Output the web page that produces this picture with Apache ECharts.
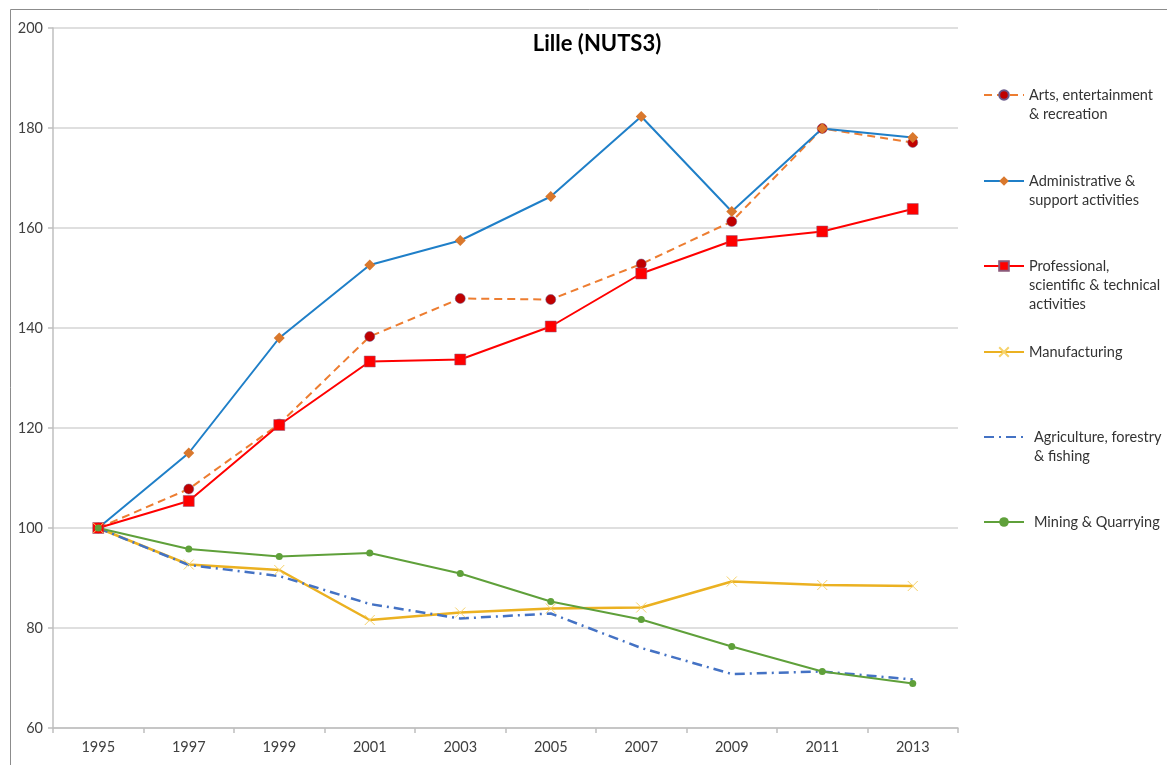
<!DOCTYPE html>
<html>
<head>
<meta charset="utf-8">
<script src="https://cdn.jsdelivr.net/npm/echarts@6/dist/echarts.min.js"></script>
<style>
html,body{margin:0;padding:0;background:#fff;}
#chart{width:1167px;height:765px;}
</style>
</head>
<body>
<div id="chart"></div>
<script>
const years = ['1995','1997','1999','2001','2003','2005','2007','2009','2011','2013'];
const yTicks = [60, 80, 100, 120, 140, 160, 180, 200];
const arts = [100, 107.8, 120.8, 138.3, 145.9, 145.7, 152.8, 161.3, 179.9, 177.1];
const admin = [100, 115.0, 138.0, 152.6, 157.5, 166.3, 182.3, 163.3, 179.9, 178.1];
const prof = [100, 105.4, 120.6, 133.3, 133.7, 140.3, 150.9, 157.4, 159.3, 163.8];
const manuf = [100, 92.7, 91.6, 81.6, 83.1, 83.9, 84.1, 89.3, 88.6, 88.4];
const agri = [100, 92.6, 90.4, 84.8, 81.9, 82.9, 76.0, 70.8, 71.3, 69.7];
const mining = [100, 95.8, 94.3, 95.0, 90.9, 85.3, 81.7, 76.3, 71.3, 68.9];
const names = ['Arts, entertainment\n& recreation', 'Administrative &\nsupport activities',
  'Professional,\nscientific & technical\nactivities', 'Manufacturing',
  'Agriculture, forestry\n& fishing', 'Mining & Quarrying'];

const FONT = 'Lato';
const LH = 19;
const legendFirstLineY = [95, 181, 266, 352, 437, 522];

function blankPrefix(name) {
  const n = name.split('\n').length;
  return '\n'.repeat(n - 1) + name;
}

const legends = names.map((nm, i) => {
  const n = nm.split('\n').length;
  const totalLines = 2 * n - 1;
  const item = {name: nm};
  if (i === 4) item.itemStyle = {opacity: 0};
  return {
    data: [item],
    orient: 'vertical',
    left: 983,
    top: legendFirstLineY[i] - totalLines * LH / 2,
    padding: 0,
    itemWidth: 40,
    itemHeight: 12,
    selectedMode: false,
    formatter: blankPrefix,
    textStyle: {fontFamily: FONT, fontSize: 14.5, color: '#333333', lineHeight: LH,
      padding: (i >= 4) ? [0, 0, 0, 5] : 0}
  };
});

const chart = echarts.init(document.getElementById('chart'));
chart.setOption({
  animation: false,
  backgroundColor: '#fff',
  title: {
    text: 'Lille (NUTS3)', left: 592, top: 28, textAlign: 'center',
    textStyle: {fontFamily: FONT, fontSize: 22, fontWeight: 'bold', color: '#000'}
  },
  graphic: [{
    type: 'rect', shape: {x: 10.5, y: 9.5, width: 1200, height: 800},
    style: {fill: 'none', stroke: '#8c8c8c', lineWidth: 1}, silent: true, z: -1
  }],
  legend: legends,
  grid: {left: 53, right: 209, top: 28, bottom: 37, containLabel: false},
  xAxis: {
    type: 'category', data: years, boundaryGap: true,
    axisLine: {lineStyle: {color: '#bfbfbf', width: 1.5}},
    axisTick: {show: true, alignWithLabel: false, length: 5, lineStyle: {color: '#bfbfbf', width: 1.5}},
    axisLabel: {fontFamily: FONT, fontSize: 14.5, color: '#404040', margin: 12}
  },
  yAxis: {
    type: 'value', min: yTicks[0], max: yTicks[yTicks.length - 1], interval: 20,
    axisLine: {show: true, lineStyle: {color: '#bfbfbf', width: 1.5}},
    axisTick: {show: true, length: 5, lineStyle: {color: '#bfbfbf', width: 1.5}},
    axisLabel: {fontFamily: FONT, fontSize: 14.5, color: '#404040', margin: 10},
    splitLine: {lineStyle: {color: '#d4d4d4', width: 1.5}}
  },
  series: [
    {name: names[0], type: 'line', data: arts, symbol: 'circle', symbolSize: 10,
      lineStyle: {color: '#ED7D31', width: 2, type: [8, 5]},
      itemStyle: {color: '#C00000', borderColor: '#6a5a8a', borderWidth: 0.5}},
    {name: names[1], type: 'line', data: admin, symbol: 'diamond', symbolSize: 11,
      lineStyle: {color: '#1F7FC8', width: 2},
      itemStyle: {color: '#D9782D'}},
    {name: names[2], type: 'line', data: prof, symbol: 'rect', symbolSize: 11,
      lineStyle: {color: '#FF0000', width: 2},
      itemStyle: {color: '#FF0000', borderColor: '#8a5a7a', borderWidth: 0.5}},
    {name: names[3], type: 'line', data: manuf, symbol: 'path://M0,0L10,10M10,0L0,10M5,5', symbolSize: 10,
      lineStyle: {color: '#EBB121', width: 2.5},
      itemStyle: {color: 'rgba(0,0,0,0)', borderColor: '#F6D26A', borderWidth: 1}},
    {name: names[4], type: 'line', data: agri, symbol: 'none', showSymbol: false,
      lineStyle: {color: '#4472C4', width: 2.5, type: [10, 5, 2, 5]},
      itemStyle: {color: '#4472C4'}},
    {name: names[5], type: 'line', data: mining, symbol: 'circle', symbolSize: 7,
      lineStyle: {color: '#5FA03A', width: 2},
      itemStyle: {color: '#5FA03A'}}
  ]
});
</script>
</body>
</html>
